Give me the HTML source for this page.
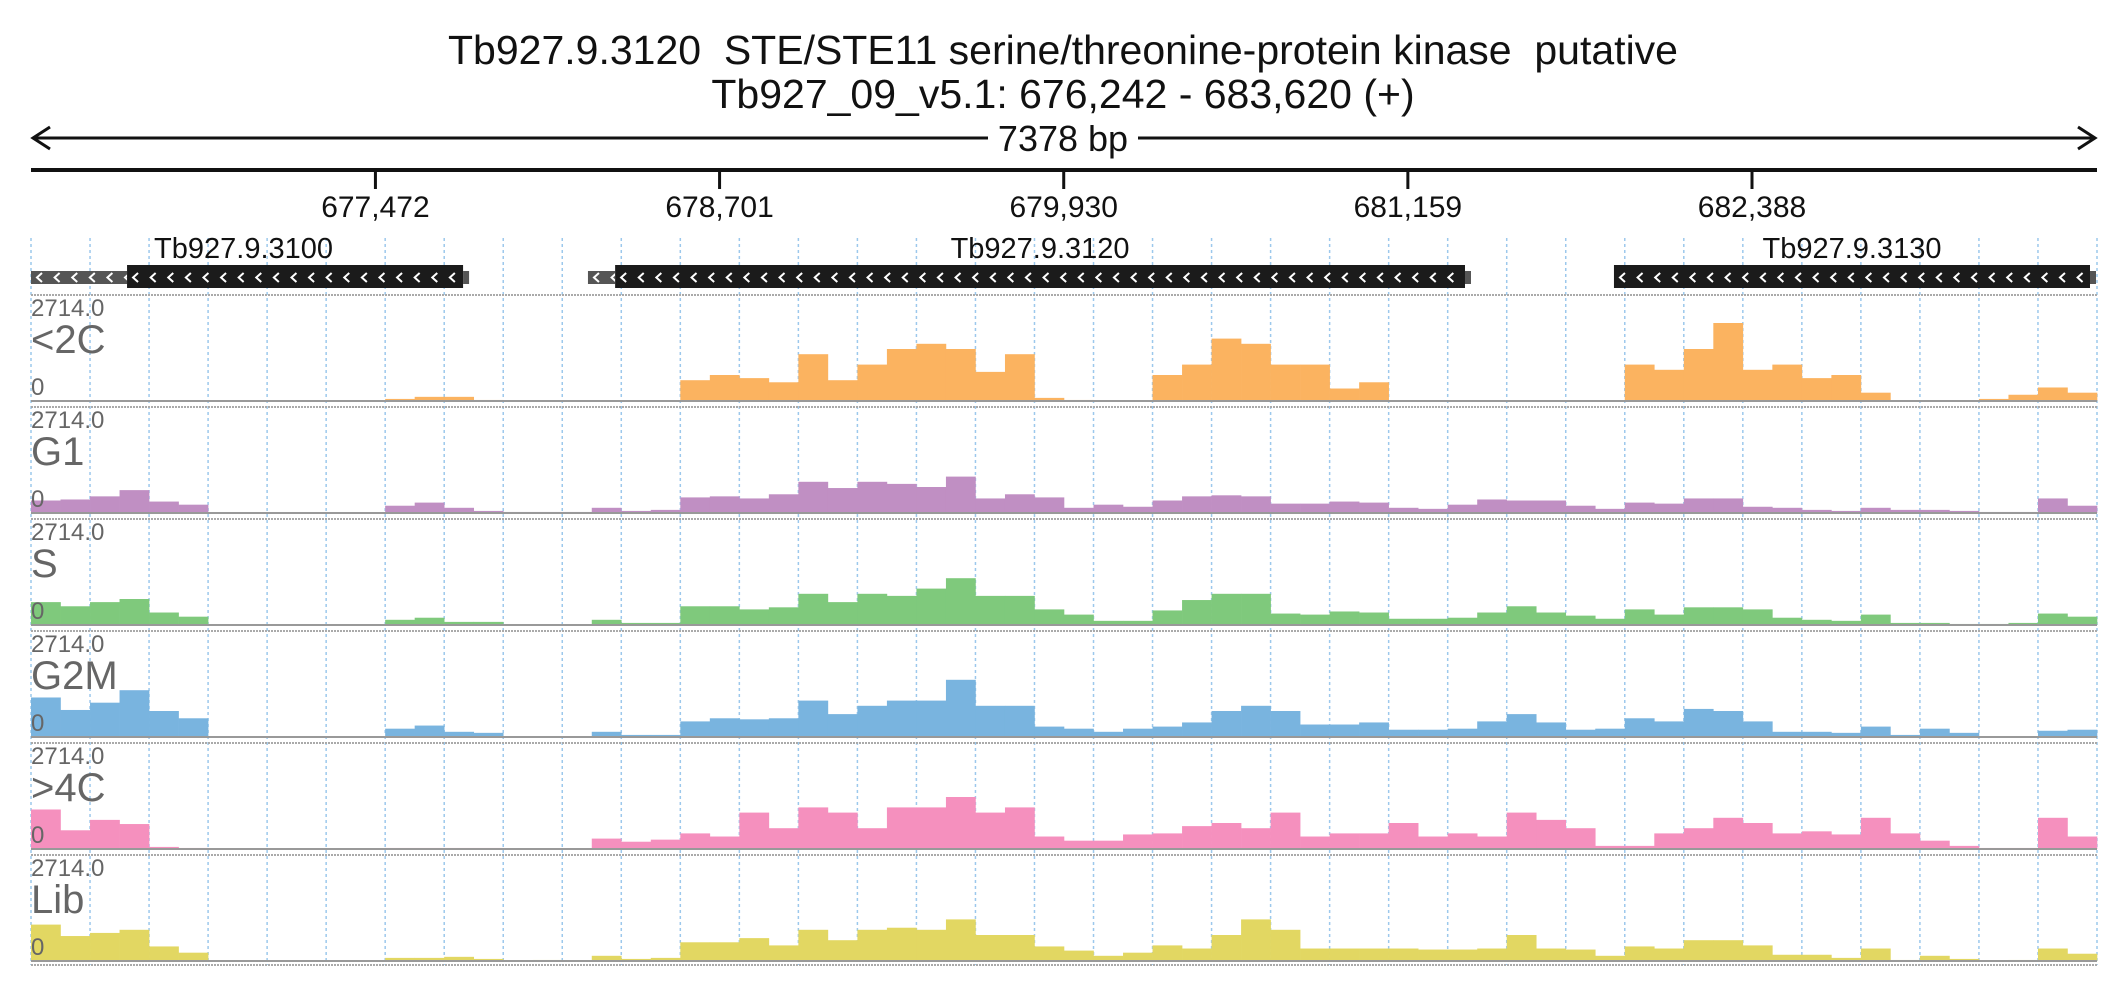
<!DOCTYPE html>
<html><head><meta charset="utf-8">
<style>
html,body{margin:0;padding:0;background:#fff;}
svg{display:block;font-family:"Liberation Sans",sans-serif;}
</style></head>
<body>
<svg id="chart" width="2126" height="1000" viewBox="0 0 2126 1000" xmlns="http://www.w3.org/2000/svg">
<text x="1063" y="64" text-anchor="middle" font-size="41" fill="#111" xml:space="preserve" style="white-space:pre">Tb927.9.3120  STE/STE11 serine/threonine-protein kinase  putative</text>
<text x="1063" y="108" text-anchor="middle" font-size="41" fill="#111">Tb927_09_v5.1: 676,242 - 683,620 (+)</text>
<g stroke="#111" stroke-width="3" fill="none">
<line x1="33" y1="138" x2="2095" y2="138"/>
<polyline points="50,127 33,138 50,149"/>
<polyline points="2078,127 2095,138 2078,149"/>
</g>
<rect x="988" y="116" width="150" height="44" fill="#fff"/>
<text x="1063" y="151" text-anchor="middle" font-size="36" fill="#111">7378 bp</text>
<line x1="31" y1="170" x2="2097" y2="170" stroke="#111" stroke-width="4"/>
<g id="axis"></g>
<g id="grid"></g>
<g id="genes"></g>
<g id="tracks"></g>
</svg>
<script>
const NS='http://www.w3.org/2000/svg';
const tickLabels=['677,472','678,701','679,930','681,159','682,388'];
const tickPositions=[677472,678701,679930,681159,682388];
const geneNames=['Tb927.9.3100','Tb927.9.3120','Tb927.9.3130'];
const geneStarts=[676585,678328,681895];
const geneEnds=[677785,681363,683595];
const utrStarts=[676242,678231,null];
const trackNames=['<2C','G1','S','G2M','>4C','Lib'];
const trackColors=['#fbb360','#c08fc3','#7fc97c','#79b4df','#f590be','#e2d762'];
const vMax=2714.0;
const s2C=[0,0.5,0,0,0,0,0,0,0,0,0,0,2,4,4,1,0,0,0,0,0,0,20,25,22,18,45,20,35,50,55,50,28,45,3,1,0,0,25,35,60,55,35,35,12,18,0,0,0,0,0,0,0,0,35,30,50,75,30,35,22,25,8,0,0,0,2,6,13,8];
const sG1=[12,13,16,22,11,8,0,0,0,0,0,0,7,10,5,2,1,1,1,5,2,3,15,16,14,18,30,24,30,28,25,35,14,18,15,5,8,6,12,16,17,16,9,9,11,10,5,4,8,13,12,12,7,4,10,9,14,14,6,5,3,2,5,3,3,2,1,1,14,7];
const sS=[22,18,22,25,12,8,0,0,0,0,0,0,5,7,3,3,0,0,0,5,2,2,18,18,15,17,30,22,30,28,35,45,28,28,15,10,4,4,14,24,30,30,11,10,13,12,6,6,7,12,18,12,9,6,15,10,17,17,15,7,5,4,10,2,2,1,1,2,11,8];
const sG2M=[38,26,33,45,25,18,0,0,0,0,0,0,8,11,5,4,0,0,0,5,2,2,15,18,17,18,35,22,30,35,35,55,30,30,10,8,5,8,10,14,25,30,25,12,12,14,7,7,8,15,22,14,7,8,18,15,27,25,15,5,5,4,10,2,8,4,0,0,6,7];
const s4C=[38,18,28,24,2,1,0,0,0,0,0,0,1,1,1,1,0,0,0,10,7,9,15,12,35,20,40,35,20,40,40,50,35,40,12,8,8,14,15,22,25,20,35,12,15,15,25,12,15,12,35,28,20,3,3,15,20,30,25,15,17,14,30,15,8,3,1,1,30,12];
const sLib=[35,24,27,30,14,8,0,0,0,0,0,0,3,3,4,2,0,1,0,5,2,3,18,18,22,15,30,20,30,32,30,40,25,25,14,10,5,8,15,12,25,40,30,12,12,12,12,11,11,12,25,12,11,5,14,12,20,20,15,6,6,3,12,1,5,2,0,1,12,7];
const series=[s2C,sG1,sS,sG2M,s4C,sLib];

const X0=31,X1=2097,G0=676242,G1=683620;
function xScale(bp){return X0+(bp-G0)/(G1-G0)*(X1-X0);}
function mk(tag,attrs,parent){const e=document.createElementNS(NS,tag);for(const k in attrs)e.setAttribute(k,attrs[k]);parent.appendChild(e);return e;}

const axis=document.getElementById('axis');
tickPositions.forEach((p,i)=>{
  const x=xScale(p);
  const t=mk('line',{x1:x,y1:170,x2:x,y2:189,stroke:'#111','stroke-width':3},axis);
  
  
  const l=mk('text',{x:x,y:217,'text-anchor':'middle','font-size':30,fill:'#111'},axis);
  l.textContent=tickLabels[i];
  
  
});

const grid=document.getElementById('grid');
for(let k=0;k<=35;k++){
  const x=X0+k*(X1-X0)/35;
  const g=mk('line',{x1:x,y1:238,x2:x,y2:965,stroke:'#9cc8ec','stroke-width':1.5,'stroke-dasharray':'3,3'},grid);
  
  
}

const genes=document.getElementById('genes');
function chevrons(x1,x2,grp){
  for(let x=x1+6;x<x2-6;x+=17.6){
    mk('polyline',{points:(x+5)+',273 '+x+',277.5 '+(x+5)+',282',fill:'none',stroke:'#fff','stroke-width':2},grp);
  }
}
geneNames.forEach((n,i)=>{
  const g=mk('g',{},genes);
  
  
  const xs=xScale(geneStarts[i]),xe=xScale(geneEnds[i]);
  if(utrStarts[i]!==null){
    const ux=xScale(utrStarts[i]);
    mk('rect',{x:ux,y:271,width:xs-ux,height:13,fill:'#555'},g);
    chevrons(ux,xs+4,g);
  }
  mk('rect',{x:xs,y:265,width:xe-xs,height:23,fill:'#1b1b1b'},g);
  mk('rect',{x:xe,y:271,width:6,height:13,fill:'#555'},g);
  chevrons(xs,xe,g);
  const tx=i===0?xs+27:(xs+xe)/2;
  const lab=mk('text',{x:tx,y:258,'text-anchor':i===0?'start':'middle','font-size':29,fill:'#111'},g);
  lab.textContent=n;
});

const tracks=document.getElementById('tracks');
const nb=70,bw=(X1-X0)/nb;
series.forEach((vals,t)=>{
  const top=295+t*112,base=top+106,h=104;
  const g=mk('g',{},tracks);
  
  
  const sep=mk('line',{x1:X0,y1:top,x2:X1,y2:top,stroke:'#aaa','stroke-width':2,'stroke-dasharray':'2,1'},g);
  
  
  vals.forEach((v,i)=>{
    const bh=v/100*h;
    if(bh<=0)return;
    const r=mk('rect',{x:X0+i*bw,y:base-bh,width:bw+0.3,height:bh,fill:trackColors[t]},g);
    
    
  });
  mk('line',{x1:X0,y1:base,x2:X1,y2:base,stroke:'#999','stroke-width':2},g);
  const mx=mk('text',{x:X0,y:top+21,'font-size':24,fill:'#666'},g);
  mx.textContent=vMax.toFixed(1);
  
  
  const nm=mk('text',{x:X0,y:top+58,'font-size':40,fill:'#666'},g);
  nm.textContent=trackNames[t];
  
  
  const z=mk('text',{x:X0,y:base-6,'font-size':24,fill:'#666'},g);
  z.textContent='0';
  
  
});
mk('line',{x1:X0,y1:965,x2:X1,y2:965,stroke:'#aaa','stroke-width':2,'stroke-dasharray':'2,1'},tracks);
</script>
</body></html>
